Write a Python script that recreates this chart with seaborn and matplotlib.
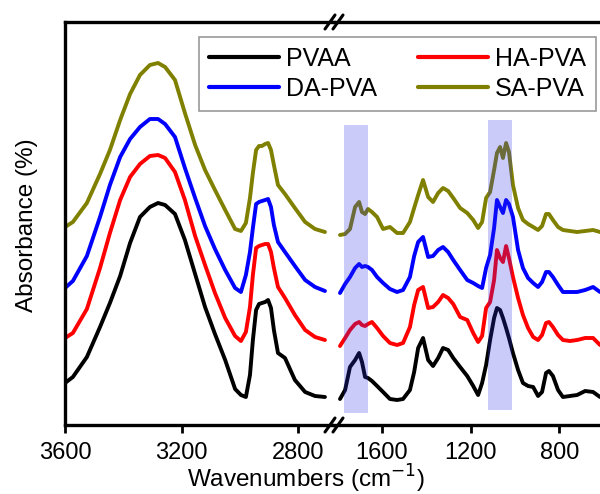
import numpy as np
import pandas as pd
import matplotlib
matplotlib.use("Agg")
import matplotlib.pyplot as plt
import seaborn as sns

# ── Data (arbitrary absorbance units) ────────────────────────────────────────
wave_left = [3600, 3573, 3525, 3480, 3446, 3411, 3377, 3343, 3309, 3281,
             3257, 3223, 3189, 3154, 3120, 3086, 3051, 3017, 2997, 2980,
             2966, 2956, 2945, 2935, 2925, 2914, 2904, 2894, 2884, 2870,
             2846, 2812, 2777, 2743, 2709]
wave_right = [1788, 1765, 1743, 1720, 1702, 1689, 1675, 1662, 1644, 1621,
              1594, 1563, 1531, 1504, 1473, 1454, 1436, 1414, 1391, 1369,
              1346, 1324, 1301, 1278, 1247, 1215, 1188, 1166, 1148, 1130,
              1112, 1094, 1081, 1067, 1054, 1040, 1027, 1009, 986, 964,
              941, 918, 896, 878, 860, 847, 829, 806, 784, 752,
              720, 684, 648, 617]

pvaa_left = [42, 48, 68, 98, 122, 149, 182, 208, 218, 222,
             220, 211, 185, 151, 118, 91, 65, 36, 30, 28,
             50, 85, 115, 121, 122, 123, 125, 117, 95, 72,
             67, 45, 33, 29, 28]
ha_left = [87, 92, 116, 157, 192, 225, 248, 261, 269, 270,
           267, 253, 225, 189, 160, 132, 107, 89, 84, 93,
           118, 150, 177, 179, 180, 181, 181, 173, 157, 138,
           127, 110, 95, 88, 85]
da_left = [137, 144, 169, 208, 240, 268, 286, 298, 306, 306,
           301, 288, 257, 227, 199, 176, 155, 137, 133, 150,
           173, 197, 221, 223, 224, 225, 226, 218, 200, 183,
           173, 159, 145, 138, 134]
sa_left = [198, 203, 222, 251, 275, 305, 331, 350, 360, 362,
           358, 345, 312, 280, 255, 235, 215, 196, 194, 202,
           227, 252, 275, 279, 279, 281, 282, 275, 260, 240,
           231, 217, 203, 196, 193]

pvaa_right = [26, 35, 58, 65, 72, 63, 48, 47, 44, 39,
              33, 26, 25, 26, 35, 53, 77, 87, 65, 59,
              67, 77, 75, 67, 58, 49, 39, 30, 42, 60,
              85, 107, 117, 115, 107, 97, 87, 72, 55, 42,
              39, 38, 29, 33, 52, 54, 49, 35, 28, 29,
              30, 34, 33, 28]
ha_right = [79, 87, 95, 101, 103, 100, 99, 101, 103, 97,
            89, 82, 80, 82, 98, 120, 135, 138, 117, 118,
            123, 130, 127, 121, 108, 105, 92, 83, 89, 117,
            123, 145, 175, 167, 163, 179, 167, 148, 127, 110,
            97, 88, 85, 90, 102, 103, 98, 90, 85, 84,
            85, 87, 87, 80]
da_right = [132, 141, 148, 157, 161, 158, 159, 158, 155, 148,
            142, 136, 133, 135, 148, 169, 183, 188, 168, 169,
            175, 178, 173, 165, 155, 145, 142, 139, 137, 157,
            170, 197, 225, 218, 212, 225, 221, 208, 175, 157,
            147, 142, 138, 143, 153, 153, 148, 140, 133, 133,
            133, 135, 138, 133]
sa_right = [190, 191, 196, 218, 223, 213, 211, 216, 213, 208,
            196, 198, 192, 192, 203, 217, 230, 245, 228, 223,
            232, 237, 234, 227, 217, 212, 205, 197, 203, 227,
            233, 255, 272, 278, 267, 282, 273, 240, 217, 205,
            201, 198, 195, 199, 211, 211, 205, 198, 195, 194,
            193, 194, 195, 193]

labels = ["PVAA", "HA-PVA", "DA-PVA", "SA-PVA"]
colors = ["#000000", "#ff0000", "#0000ff", "#808000"]

# shaded bands (wavenumber ranges, absorbance extent)
band_lo = [1662, 1013]
band_hi = [1770, 1122]
band_bottom = [12, 15]
band_top = [300, 305]

left_df = pd.DataFrame({"wave": wave_left * 4,
                        "abs": pvaa_left + ha_left + da_left + sa_left,
                        "sample": np.repeat(labels, len(wave_left))})
right_df = pd.DataFrame({"wave": wave_right * 4,
                         "abs": pvaa_right + ha_right + da_right + sa_right,
                         "sample": np.repeat(labels, len(wave_right))})

# ── Figure ───────────────────────────────────────────────────────────────────
sns.set_style("white")
plt.rcParams["font.family"] = ["Liberation Sans", "DejaVu Sans"]
plt.rcParams["text.color"] = "black"

fig = plt.figure(figsize=(6.0, 4.94), dpi=100)
x0, x_brk, x1 = 65 / 600, 334 / 600, 1.0
y0, y1 = 69 / 494, 472 / 494
ax_l = fig.add_axes([x0, y0, x_brk - x0, y1 - y0])
ax_r = fig.add_axes([x_brk, y0, x1 - x_brk, y1 - y0])

palette = dict(zip(labels, colors))
for ax, df in [(ax_l, left_df), (ax_r, right_df)]:
    sns.lineplot(data=df, x="wave", y="abs", hue="sample", hue_order=labels,
                 palette=palette, linewidth=2.8, ax=ax, legend=False,
                 estimator=None, sort=False)
    for ln in ax.lines:
        ln.set_solid_joinstyle("round")
        ln.set_solid_capstyle("round")
    ax.set_ylim(0, 403)
    ax.set_yticks([])
    ax.set_xlabel("")
    ax.set_ylabel("")
    for side in ["top", "bottom", "left", "right"]:
        ax.spines[side].set_linewidth(2.4)
        ax.spines[side].set_color("black")
    ax.tick_params(axis="x", direction="out", length=6, width=2,
                   labelsize=17, pad=6, colors="black", bottom=True)

ax_l.set_xlim(3600, 2678)
ax_l.set_xticks([3600, 3200, 2800])
ax_l.spines["right"].set_visible(False)

ax_r.set_xlim(1815, 617)
ax_r.set_xticks([1600, 1200, 800])
ax_r.spines["left"].set_visible(False)
ax_r.spines["right"].set_visible(False)

# shaded bands on top of the curves
for lo, hi, b, t in zip(band_lo, band_hi, band_bottom, band_top):
    ax_r.fill_between([lo, hi], b, t, color="#3333ee", alpha=0.25,
                      linewidth=0, zorder=5)

# break marks "//"
w = ax_r.get_position().width * 600
h = ax_r.get_position().height * 494
for yy in [0, 1]:
    for off in [-4, 4]:
        xs = [(off - 5) / w, (off + 5) / w]
        ys = [yy - 7 / h, yy + 7 / h]
        ax_r.plot(xs, ys, color="black", lw=2.2, transform=ax_r.transAxes,
                  clip_on=False, zorder=10)

# legend spanning both panels
handles = [plt.Line2D([], [], color=c, lw=3) for c in colors]
order = [0, 2, 1, 3]
leg = fig.legend([handles[i] for i in order], [labels[i] for i in order],
                 ncol=2, loc="upper right",
                 bbox_to_anchor=(596 / 600, (494 - 37) / 494),
                 fontsize=18, frameon=True, fancybox=False,
                 handlelength=2.8, handletextpad=0.3, columnspacing=1.6,
                 labelspacing=0.25, borderpad=0.4, borderaxespad=0)
leg.get_frame().set_edgecolor("#808080")
leg.get_frame().set_linewidth(1.2)

fig.text(306 / 600, (494 - 479) / 494, "Wavenumbers (cm$^{-1}$)",
         ha="center", va="center", fontsize=17.5, color="black")
fig.text(27 / 600, (494 - 225) / 494, "Absorbance (%)", ha="center",
         va="center", rotation=90, fontsize=17.5, color="black")

fig.savefig("out.png", dpi=100)
